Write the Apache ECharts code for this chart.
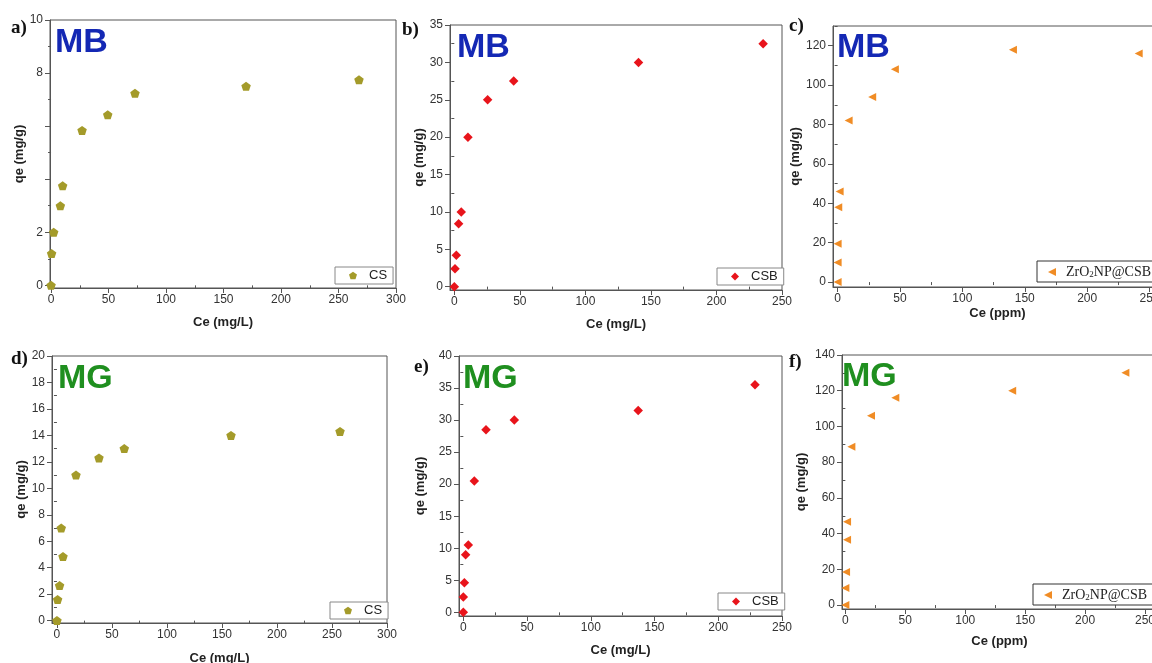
<!DOCTYPE html>
<html>
<head>
<meta charset="utf-8">
<script src="https://cdn.jsdelivr.net/npm/echarts@6/dist/echarts.min.js"></script>
<style>
html, body { margin: 0; background: #fff; }
#chart { width: 1152px; height: 663px; }
</style>
</head>
<body>
<div id="chart"></div>
<script>
// isotherm points: Ce (x) and qe (y)
var csMB_ce = [0, 0.5, 2.3, 8.1, 10.1, 27, 49.3, 73, 169.6, 267.8];
var csMB_qe = [0, 1.2, 2.0, 3.0, 3.75, 5.84, 6.43, 7.24, 7.5, 7.75];
var csbMB_ce = [0, 0.5, 1.5, 3.3, 5.3, 10.4, 25.4, 45.3, 140.5, 235.6];
var csbMB_qe = [0, 2.4, 4.2, 8.4, 10, 20, 25, 27.5, 30, 32.5];
var zrMB_ce = [0, 0, 0, 0.5, 1.6, 8.8, 27.7, 45.9, 140.5, 241.3];
var zrMB_qe = [0, 10, 19.5, 38, 46, 82, 94, 108, 118, 116];
var csMG_ce = [0, 0.6, 2.4, 3.9, 5.5, 17.3, 38.2, 61.2, 158.2, 257.3];
var csMG_qe = [0, 1.6, 2.65, 7.0, 4.85, 11, 12.3, 13, 14, 14.3];
var csbMG_ce = [0, 0, 0.8, 1.8, 3.9, 8.6, 17.8, 40, 137.2, 228.8];
var csbMG_qe = [0, 2.4, 4.6, 9, 10.5, 20.5, 28.5, 30, 31.5, 35.5];
var zrMG_ce = [0, 0, 0.6, 1.4, 1.4, 5, 21.4, 41.7, 139.2, 233.6];
var zrMG_qe = [0, 9.5, 18.5, 36.5, 46.6, 88.7, 106, 116, 120, 130];

// tick values
var xMajor300 = [0, 50, 100, 150, 200, 250, 300];
var xMinor300 = [25, 75, 125, 175, 225, 275];
var xMajor250 = [0, 50, 100, 150, 200, 250];
var xMinor250 = [25, 75, 125, 175, 225];
var yMajor10 = [0, 2, 4, 6, 8, 10];
var yLabels10 = [0, 2, 8, 10];
var yMinor10 = [1, 3, 5, 7, 9];
var yMajor35 = [0, 5, 10, 15, 20, 25, 30, 35];
var yMinor35 = [2.5, 7.5, 12.5, 17.5, 22.5, 27.5, 32.5];
var yMajor120 = [0, 20, 40, 60, 80, 100, 120];
var yMinor130 = [10, 30, 50, 70, 90, 110, 130];
var yMajor20 = [0, 2, 4, 6, 8, 10, 12, 14, 16, 18, 20];
var yMinor20 = [1, 3, 5, 7, 9, 11, 13, 15, 17, 19];
var yMajor40 = [0, 5, 10, 15, 20, 25, 30, 35, 40];
var yMinor40 = [2.5, 7.5, 12.5, 17.5, 22.5, 27.5, 32.5, 37.5];
var yMajor140 = [0, 20, 40, 60, 80, 100, 120, 140];
var yMinor140 = [10, 30, 50, 70, 90, 110, 130];

var pentagon = 'path://M5,0.3L9.755,3.755L7.939,9.345L2.061,9.345L0.245,3.755Z';
var leftTri = 'path://M0,5L10,0L10,10Z';
var olive = '#a49b2a', red = '#e8141b', orange = '#f08c25';
var blue = '#1428b4', green = '#1f8f1f';
var frame = '#555';
var sans = '"Liberation Sans", Arial, sans-serif';
var serif = '"Liberation Serif", "Times New Roman", serif';

var panels = [
  {rect: [50, 20, 346, 268], x: [-0.9, 300], y: [-0.1, 10], xMaj: xMajor300, xMin: xMinor300,
   yMaj: yMajor10, yLab: yLabels10, yMin: yMinor10, xName: 'Ce (mg/L)', xGap: 28, yGap: 15,
   name: 'CS', ce: csMB_ce, qe: csMB_qe, symbol: pentagon, size: [9.5, 9], color: olive,
   tag: 'MB', tagColor: blue, tagAt: [55, 26], letter: 'a)', letterAt: [11, 19], legendAt: [335, 267]},
  {rect: [450, 25, 332, 265], x: [-3.3, 250], y: [-0.45, 35], xMaj: xMajor250, xMin: xMinor250,
   yMaj: yMajor35, yLab: yMajor35, yMin: yMinor35, xName: 'Ce (mg/L)', xGap: 28, yGap: 23,
   name: 'CSB', ce: csbMB_ce, qe: csbMB_qe, symbol: 'diamond', size: [9.5, 9.5], color: red,
   tag: 'MB', tagColor: blue, tagAt: [457, 31], letter: 'b)', letterAt: [402, 21], legendAt: [717, 268]},
  {rect: [833, 26, 329, 261], x: [-3.7, 260], y: [-2.5, 130], xMaj: xMajor250, xMin: xMinor250,
   yMaj: yMajor120, yLab: yMajor120, yMin: yMinor130, xName: 'Ce (ppm)', xGap: 20, yGap: 28,
   name: 'ZrO2NP@CSB', ce: zrMB_ce, qe: zrMB_qe, symbol: leftTri, size: [8, 8], color: orange,
   tag: 'MB', tagColor: blue, tagAt: [837, 31], letter: 'c)', letterAt: [789, 17], legendAt: [1037, 261]},
  {rect: [52, 356, 335, 267], x: [-4.5, 300], y: [-0.18, 20], xMaj: xMajor300, xMin: xMinor300,
   yMaj: yMajor20, yLab: yMajor20, yMin: yMinor20, xName: 'Ce (mg/L)', xGap: 29, yGap: 20,
   name: 'CS', ce: csMG_ce, qe: csMG_qe, symbol: pentagon, size: [9.5, 9], color: olive,
   tag: 'MG', tagColor: green, tagAt: [58, 362], letter: 'd)', letterAt: [11, 350], legendAt: [330, 602]},
  {rect: [459, 356, 323, 260], x: [-3.4, 250], y: [-0.57, 40], xMaj: xMajor250, xMin: xMinor250,
   yMaj: yMajor40, yLab: yMajor40, yMin: yMinor40, xName: 'Ce (mg/L)', xGap: 28, yGap: 32,
   name: 'CSB', ce: csbMG_ce, qe: csbMG_qe, symbol: 'diamond', size: [9.5, 9.5], color: red,
   tag: 'MG', tagColor: green, tagAt: [463, 362], letter: 'e)', letterAt: [414, 358], legendAt: [718, 593]},
  {rect: [842, 355, 315, 254], x: [-2.8, 260], y: [-2.2, 140], xMaj: xMajor250, xMin: xMinor250,
   yMaj: yMajor140, yLab: yMajor140, yMin: yMinor140, xName: 'Ce (ppm)', xGap: 26, yGap: 34,
   name: 'ZrO2NP@CSB', ce: zrMG_ce, qe: zrMG_qe, symbol: leftTri, size: [8, 8], color: orange,
   tag: 'MG', tagColor: green, tagAt: [842, 360], letter: 'f)', letterAt: [789, 353], legendAt: [1033, 584]}
];

var tickFont = {color: '#333', fontSize: 12, fontFamily: sans};
var nameFont = {color: '#222', fontSize: 13, fontWeight: 'bold', fontFamily: sans};
var lineStyle = {color: frame, width: 1};

var option = {animation: false, backgroundColor: '#fff', grid: [], xAxis: [], yAxis: [], series: [], legend: [], graphic: []};

panels.forEach(function (p, i) {
  option.grid.push({left: p.rect[0], top: p.rect[1], width: p.rect[2], height: p.rect[3],
    show: true, borderColor: frame, borderWidth: 1, backgroundColor: '#fff', outerBoundsMode: 'none'});

  option.xAxis.push({gridIndex: i, type: 'value', position: 'bottom', min: p.x[0], max: p.x[1],
    name: p.xName, nameLocation: 'middle', nameGap: p.xGap, nameTextStyle: nameFont,
    axisLine: {onZero: false, lineStyle: lineStyle},
    axisTick: {customValues: p.xMaj, length: 5, lineStyle: lineStyle},
    axisLabel: Object.assign({customValues: p.xMaj, margin: 6}, tickFont),
    splitLine: {show: false}});
  option.xAxis.push({gridIndex: i, type: 'value', position: 'bottom', min: p.x[0], max: p.x[1],
    axisLine: {show: false}, axisTick: {customValues: p.xMin, length: 3, lineStyle: lineStyle},
    axisLabel: {show: false}, splitLine: {show: false}});

  option.yAxis.push({gridIndex: i, type: 'value', position: 'left', min: p.y[0], max: p.y[1],
    name: 'qe (mg/g)', nameLocation: 'middle', nameGap: p.yGap, nameTextStyle: nameFont,
    axisLine: {onZero: false, lineStyle: lineStyle},
    axisTick: {customValues: p.yMaj, length: 5, lineStyle: lineStyle},
    axisLabel: Object.assign({customValues: p.yLab, margin: 7}, tickFont),
    splitLine: {show: false}});
  option.yAxis.push({gridIndex: i, type: 'value', position: 'left', min: p.y[0], max: p.y[1],
    axisLine: {show: false}, axisTick: {customValues: p.yMin, length: 3, lineStyle: lineStyle},
    axisLabel: {show: false}, splitLine: {show: false}});

  option.series.push({type: 'scatter', name: p.name, xAxisIndex: 2 * i, yAxisIndex: 2 * i,
    symbol: p.symbol, symbolSize: p.size, itemStyle: {color: p.color, opacity: 1},
    data: p.ce.map(function (c, j) { return [c, p.qe[j]]; })});

  var zr = p.name === 'ZrO2NP@CSB';
  option.legend.push({data: [p.name], left: p.legendAt[0], top: p.legendAt[1], icon: p.symbol,
    itemWidth: 8, itemHeight: 8, backgroundColor: '#fff', borderColor: zr ? '#333' : '#888', borderWidth: 1,
    borderRadius: 0, padding: zr ? [4, 6, 3, 11] : [2, 6, 2, 14], selectedMode: false,
    formatter: function (n) { return zr ? '{s0|ZrO}{sub|2}{s|NP@CSB}' : '{t|' + n + '}'; },
    textStyle: {rich: {
      t: {fontFamily: sans, fontSize: 13, color: '#222', padding: [0, 0, 0, 7]},
      s0: {fontFamily: serif, fontSize: 14, color: '#222', padding: [0, 0, 0, 5]},
      s: {fontFamily: serif, fontSize: 14, color: '#222'},
      sub: {fontFamily: serif, fontSize: 9, color: '#222', verticalAlign: 'bottom'}
    }}});

  option.graphic.push({type: 'text', left: p.tagAt[0], top: p.tagAt[1], z: 10,
    style: {text: p.tag, fill: p.tagColor, font: 'bold 34px ' + sans}});
  option.graphic.push({type: 'text', left: p.letterAt[0], top: p.letterAt[1], z: 10,
    style: {text: p.letter, fill: '#111', font: 'bold 19px ' + serif}});
});

var myChart = echarts.init(document.getElementById('chart'));
myChart.setOption(option);
</script>
</body>
</html>
